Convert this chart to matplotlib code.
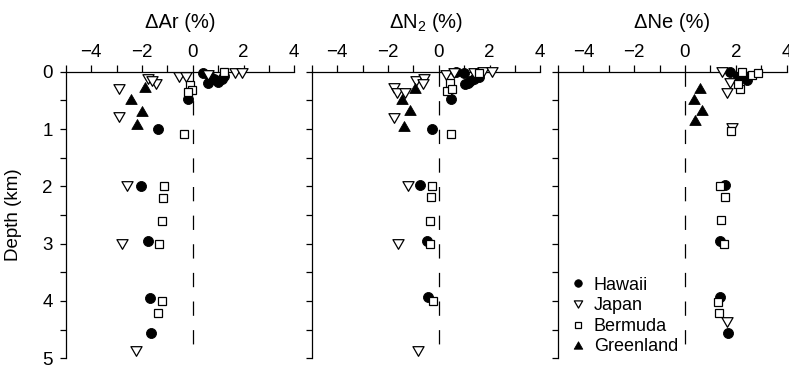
import matplotlib
matplotlib.use("Agg")
import matplotlib.pyplot as plt
from matplotlib.lines import Line2D
from matplotlib.path import Path
import numpy as np

plt.rcParams['font.family'] = ['Liberation Sans', 'DejaVu Sans']
plt.rcParams['mathtext.fontset'] = 'custom'
plt.rcParams['mathtext.rm'] = 'Liberation Sans'
plt.rcParams['mathtext.it'] = 'Liberation Sans:italic'
plt.rcParams['font.size'] = 13.5

# ---------------- data ----------------
panel_titles = ["\u0394Ar (%)", "$\\mathregular{\\Delta N_2}$ (%)", "\u0394Ne (%)"]
series_names = ["Hawaii", "Japan", "Bermuda", "Greenland"]

# Delta Ar
hawaii_ar_x = [0.40, 0.65, 0.60, 0.85, 1.00, 1.15, 1.25, -0.20, -1.35, -2.05, -1.75, -1.70, -1.65]
hawaii_ar_d = [0.02, 0.05, 0.20, 0.12, 0.18, 0.12, 0.08, 0.48, 1.00, 1.99, 2.96, 3.95, 4.55]
japan_ar_x = [-0.55, -0.25, 0.60, 1.65, 1.95, -1.75, -1.45, -1.60, -2.90, -2.90, -2.60, -2.80, -2.25]
japan_ar_d = [0.10, 0.10, 0.06, 0.03, 0.02, 0.13, 0.22, 0.17, 0.30, 0.79, 1.99, 3.01, 4.87]
bermuda_ar_x = [-0.10, -0.04, -0.17, 1.25, -0.33, -1.13, -1.18, -1.22, -1.31, -1.22, -1.35]
bermuda_ar_d = [0.23, 0.32, 0.35, 0.00, 1.08, 2.00, 2.20, 2.60, 3.00, 4.00, 4.21]
greenland_ar_x = [-1.88, -2.43, -2.00, -2.20]
greenland_ar_d = [0.27, 0.47, 0.68, 0.91]

# Delta N2
hawaii_n2_x = [0.70, 0.98, 1.05, 1.15, 1.25, 1.40, 1.57, 0.50, -0.25, -0.75, -0.48, -0.43]
hawaii_n2_d = [0.00, 0.03, 0.22, 0.20, 0.17, 0.13, 0.09, 0.47, 1.00, 1.97, 2.96, 3.93]
japan_n2_x = [-1.77, -1.64, -1.31, -0.88, -0.59, -0.61, -1.77, 0.30, 0.59, 1.40, 1.75, 2.08, -1.20, -1.60, -0.83]
japan_n2_d = [0.29, 0.38, 0.38, 0.17, 0.13, 0.22, 0.80, 0.06, 0.03, 0.03, 0.01, 0.00, 2.00, 3.01, 4.87]
bermuda_n2_x = [0.43, 0.33, 0.53, 1.60, 0.49, -0.26, -0.30, -0.35, -0.35, -0.22]
bermuda_n2_d = [0.20, 0.33, 0.31, 0.02, 1.08, 1.99, 2.19, 2.60, 3.00, 4.00]
greenland_n2_x = [-0.94, -1.44, -1.12, -1.38]
greenland_n2_d = [0.29, 0.47, 0.67, 0.94]

# Delta Ne
hawaii_ne_x = [1.77, 2.10, 2.30, 2.43, 1.57, 1.38, 1.38, 1.71]
hawaii_ne_d = [0.00, 0.10, 0.05, 0.14, 1.98, 2.96, 3.93, 4.55]
japan_ne_x = [1.44, 1.77, 1.64, 1.84, 1.64]
japan_ne_d = [0.00, 0.20, 0.38, 0.99, 4.36]
bermuda_ne_x = [2.23, 2.62, 2.86, 2.17, 2.10, 1.80, 1.38, 1.57, 1.40, 1.55, 1.31, 1.35]
bermuda_ne_d = [0.00, 0.06, 0.03, 0.30, 0.21, 1.04, 1.99, 2.19, 2.59, 3.01, 4.02, 4.21]
greenland_ne_x = [0.59, 0.35, 0.66, 0.39]
greenland_ne_d = [0.29, 0.47, 0.66, 0.85]

panels = [
    [(hawaii_ar_x, hawaii_ar_d), (japan_ar_x, japan_ar_d), (bermuda_ar_x, bermuda_ar_d), (greenland_ar_x, greenland_ar_d)],
    [(hawaii_n2_x, hawaii_n2_d), (japan_n2_x, japan_n2_d), (bermuda_n2_x, bermuda_n2_d), (greenland_n2_x, greenland_n2_d)],
    [(hawaii_ne_x, hawaii_ne_d), (japan_ne_x, japan_ne_d), (bermuda_ne_x, bermuda_ne_d), (greenland_ne_x, greenland_ne_d)],
]

x_major = [-4, -2, 0, 2, 4]
x_minor = [-5, -3, -1, 1, 3]
y_major = [0, 1, 2, 3, 4, 5]
y_minor = [0.5, 1.5, 2.5, 3.5, 4.5]

# ---------------- styles ----------------
codes = [Path.MOVETO, Path.LINETO, Path.LINETO, Path.CLOSEPOLY]
tri_down = Path([(-1, 0.866), (1, 0.866), (0, -0.866), (0, 0)], codes)
tri_up = Path([(-1, -0.866), (1, -0.866), (0, 0.866), (0, 0)], codes)
styles = [
    dict(marker='o', ms=7.2, mfc='black', mec='black', mew=0.6),
    dict(marker=tri_down, ms=8.0, mfc='white', mec='black', mew=0.9),
    dict(marker='s', ms=5.6, mfc='white', mec='black', mew=0.9),
    dict(marker=tri_up, ms=8.2, mfc='black', mec='black', mew=0.6),
]

W, H = 789, 365
fig = plt.figure(figsize=(W / 100, H / 100), dpi=100)

ax_w = 228.6 / W
ax_h = 286.6 / H
ax_bottom = (H - 358.3) / H
lefts = [65.7 / W, 311.7 / W, 558.0 / W]

for i, (left, data) in enumerate(zip(lefts, panels)):
    ax = fig.add_axes([left, ax_bottom, ax_w, ax_h])
    ax.set_xlim(-5, 4)
    ax.set_ylim(5, 0)
    for sp in ['right', 'bottom']:
        ax.spines[sp].set_visible(False)
    for sp in ['top', 'left']:
        ax.spines[sp].set_linewidth(0.9)
    ax.xaxis.tick_top()
    ax.set_xticks(x_major)
    ax.set_xticks(x_minor, minor=True)
    ax.set_xticklabels([f"\u2212{abs(v)}" if v < 0 else str(v) for v in x_major])
    ax.set_yticks(y_major)
    ax.set_yticks(y_minor, minor=True)
    ax.tick_params(axis='x', which='both', direction='out', length=5, width=0.9, pad=3)
    ax.tick_params(axis='y', which='both', direction='out', length=4.5, width=0.9, pad=5)
    if i > 0:
        ax.set_yticklabels([])
    else:
        ax.set_ylabel("Depth (km)", fontsize=13.5)
        ax.yaxis.set_label_coords(-0.19, 0.5)

    # dashed zero line
    ax.plot([0, 0], [0, 4.76], color='black', lw=0.9, linestyle=(0, (11.45, 11.45)), zorder=1)

    for (xs, ds), st in zip(data, styles):
        ax.plot(xs, ds, linestyle='none', clip_on=False, zorder=3, **st)

    ax.text(0.5, 1.151, panel_titles[i], transform=ax.transAxes, ha='center', va='baseline',
            fontsize=14.5)

    if i == 2:
        handles = []
        for st, name in zip(styles, series_names):
            s = dict(st)
            s['ms'] = s['ms'] * 0.75
            handles.append(Line2D([], [], linestyle='none', label=name, **s))
        ax.legend(handles=handles, loc='lower left', bbox_to_anchor=(0.05, 0.01),
                  frameon=False, borderpad=0, borderaxespad=0, handlelength=1.0,
                  handletextpad=0.35, labelspacing=0.2, fontsize=13)

fig.savefig("out.png", dpi=100)
